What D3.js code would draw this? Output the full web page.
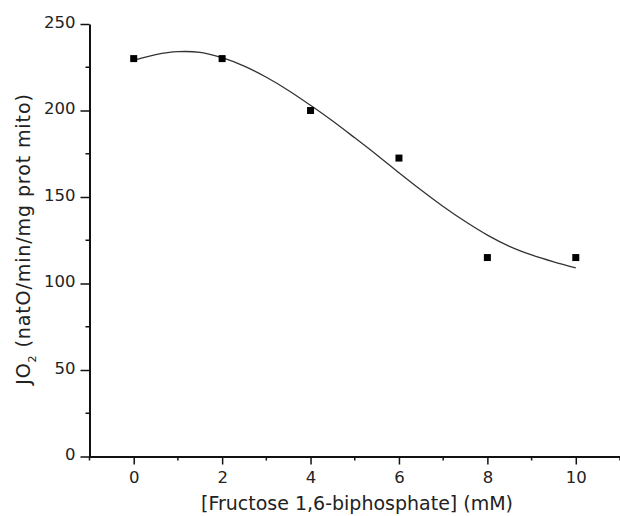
<!DOCTYPE html>
<html><head><meta charset="utf-8">
<script src="https://cdn.jsdelivr.net/npm/d3@7"></script>
<style>body{margin:0;background:#fff}svg{display:block}text{font-family:"DejaVu Sans",sans-serif;fill:#222}</style>
</head><body><svg id="c" width="620" height="516"></svg>
<script>
const concentrations = [0, 2, 4, 6, 8, 10];
const jo2Values = [230, 230, 200, 172.5, 115, 115];
const fitX = [0,0.5,1,1.5,2,2.5,3,3.5,4,4.5,5,5.5,6,6.5,7,7.5,8,8.5,9,9.5,10];
const fitY = [229,232.3,234,233.6,230.5,225.6,219.2,211.6,203,193.9,184.2,174.3,164,154,144.5,135.8,128,121.5,116.5,112.5,109];
const xTicks = [0,2,4,6,8,10];
const xMinor = [-1,1,3,5,7,9,11];
const yTicks = [0,50,100,150,200,250];
const yMinor = [25,75,125,175,225];

const svg = d3.select("#c");
const x = d3.scaleLinear().domain([-1, 11]).range([89.5, 620]);
const y = d3.scaleLinear().domain([0, 250]).range([456.5, 24]);

// axes
const gx = svg.append("g").attr("transform", `translate(0,${y(0)})`);
gx.call(d3.axisBottom(x).tickValues(xTicks).tickSize(8).tickPadding(7).tickFormat(d3.format("d")).tickSizeOuter(0));
gx.append("g").selectAll("line").data(xMinor).join("line")
  .attr("x1", d => x(d)).attr("x2", d => x(d)).attr("y1", 0).attr("y2", 4).attr("stroke", "#111").attr("stroke-width", 1.5);

const gy = svg.append("g").attr("transform", `translate(${x(-1)},0)`);
gy.call(d3.axisLeft(y).tickValues(yTicks).tickSize(9).tickPadding(5).tickFormat(d3.format("d")).tickSizeOuter(0));
gy.append("g").selectAll("line").data(yMinor).join("line")
  .attr("y1", d => y(d)).attr("y2", d => y(d)).attr("x1", 0).attr("x2", -4).attr("stroke", "#111").attr("stroke-width", 1.5);

svg.selectAll(".domain").attr("stroke", "#111").attr("stroke-width", 2);
svg.selectAll(".tick line").attr("stroke", "#111").attr("stroke-width", 1.5);
svg.selectAll(".tick text").attr("font-size", 16.5).attr("fill", "#333").attr("font-family", "DejaVu Sans");
gy.selectAll(".tick text").attr("dy", "0.2em");

// fit curve
const line = d3.line().x(d => x(d[0])).y(d => y(d[1])).curve(d3.curveCatmullRom);
svg.append("path").datum(fitX.map((v, i) => [v, fitY[i]]))
  .attr("d", line).attr("fill", "none").attr("stroke", "#333").attr("stroke-width", 1.3);

// points
svg.append("g").selectAll("rect").data(concentrations.map((v, i) => [v, jo2Values[i]])).join("rect")
  .attr("x", d => x(d[0]) - 3.5).attr("y", d => y(d[1]) - 3.5).attr("width", 7).attr("height", 7).attr("fill", "#000");

// labels
svg.append("text").attr("x", 357).attr("y", 510).attr("text-anchor", "middle").attr("font-size", 19)
  .attr("fill", "#333").text("[Fructose 1,6-biphosphate] (mM)");
const yl = svg.append("text").attr("transform", "translate(30,239) rotate(-90)").attr("text-anchor", "middle")
  .attr("font-size", 19).attr("fill", "#333").attr("letter-spacing", 0.9);
yl.append("tspan").text("JO");
yl.append("tspan").attr("font-size", 11).attr("dy", 6).text("2");
yl.append("tspan").attr("dy", -6).text(" (natO/min/mg prot mito)");
</script></body></html>
